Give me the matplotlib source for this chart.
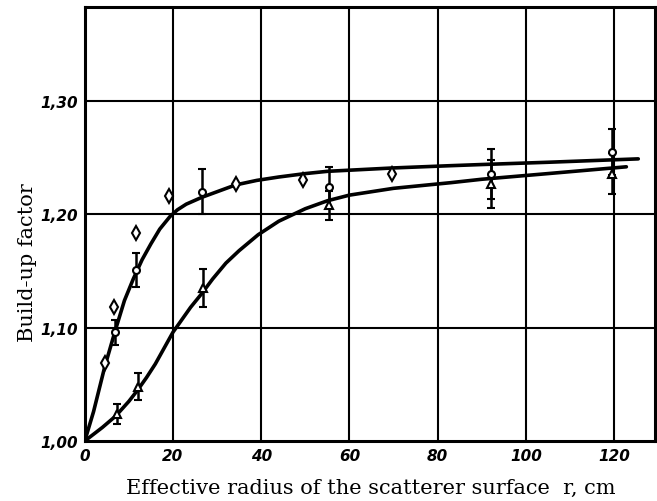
import matplotlib.pyplot as plt

# --- data ---
# smooth fitted curves
upper_x = [0, 2, 4.5, 6.8, 9, 11, 13, 15, 17, 19.3, 21, 23, 26.5, 30, 34.2, 39, 44,
           50, 55, 70, 83, 90, 105, 125.5]
upper_y = [1.000, 1.026, 1.065, 1.096, 1.124, 1.143, 1.160, 1.174, 1.187, 1.198, 1.204,
           1.209, 1.215, 1.220, 1.226, 1.230, 1.233, 1.236, 1.238, 1.241, 1.243, 1.244,
           1.246, 1.249]
lower_x = [0, 4, 7, 10, 12, 14, 16, 18, 20, 22, 24, 26.5, 29, 32, 35, 39.3, 44, 50, 55,
           60, 70, 83, 90, 105, 122.8]
lower_y = [1.000, 1.012, 1.022, 1.035, 1.045, 1.056, 1.068, 1.082, 1.096, 1.107, 1.118,
           1.130, 1.143, 1.157, 1.168, 1.182, 1.194, 1.205, 1.212, 1.217, 1.223, 1.228,
           1.231, 1.236, 1.242]

# measured points
circ_x = [6.8, 11.6, 26.5, 55.3, 92, 119.6]
circ_y = [1.096, 1.151, 1.220, 1.224, 1.236, 1.255]
circ_err = [0.011, 0.015, 0.020, 0.018, 0.022, 0.020]

tri_x = [7.2, 12.1, 26.7, 55.3, 92, 119.6]
tri_y = [1.024, 1.048, 1.135, 1.208, 1.227, 1.236]
tri_err = [0.009, 0.012, 0.017, 0.013, 0.021, 0.018]

diam_x = [4.5, 6.6, 11.7, 19.0, 34.2, 49.4, 69.7]
diam_y = [1.069, 1.118, 1.184, 1.216, 1.227, 1.230, 1.236]

xticks = [0, 20, 40, 60, 80, 100, 120]
yticks = [1.00, 1.10, 1.20, 1.30]
ytick_labels = ['1,00', '1,10', '1,20', '1,30']

fig = plt.figure(figsize=(6.57, 5.02), dpi=100)
ax = fig.add_axes([0.129, 0.1195, 0.868, 0.8645])

ax.set_xlim(0, 129.3)
ax.set_ylim(1.0, 1.383)

# grid like the printed graph paper
for xv in xticks[1:]:
    ax.axvline(xv, color='black', lw=1.5, zorder=1)
for yv in yticks[1:]:
    ax.axhline(yv, color='black', lw=1.5, zorder=1)

ax.plot(upper_x, upper_y, color='black', lw=2.6, zorder=3, solid_capstyle='round',
        solid_joinstyle='round')
ax.plot(lower_x, lower_y, color='black', lw=2.6, zorder=3, solid_capstyle='round',
        solid_joinstyle='round')

ax.errorbar(circ_x, circ_y, yerr=circ_err, fmt='o', ms=5, mfc='white', mec='black',
            mew=1.5, ecolor='black', elinewidth=1.8, capsize=3, capthick=1.5, zorder=4)
ax.errorbar(tri_x, tri_y, yerr=tri_err, fmt='^', ms=6, mfc='white', mec='black',
            mew=1.5, ecolor='black', elinewidth=1.8, capsize=3, capthick=1.5, zorder=4)
ax.plot(diam_x, diam_y, 'd', ms=7, mfc='white', mec='black', mew=1.5, ls='none', zorder=4)

ax.set_xticks(xticks)
ax.set_yticks(yticks)
ax.set_yticklabels(ytick_labels)
ax.tick_params(length=0, pad=5)
for lab in ax.get_xticklabels() + ax.get_yticklabels():
    lab.set_fontstyle('italic')
    lab.set_fontweight('bold')
    lab.set_fontsize(11)

for s in ax.spines.values():
    s.set_linewidth(2.2)

ax.set_xlabel('Effective radius of the scatterer surface  r, cm', family='DejaVu Serif',
              fontsize=15, va='center')
ax.set_ylabel('Build-up factor', family='DejaVu Serif', fontsize=15, va='center')
ax.xaxis.set_label_coords(0.502, -0.108)
ax.yaxis.set_label_coords(-0.1, 0.413)

fig.savefig('out.png', dpi=100)
